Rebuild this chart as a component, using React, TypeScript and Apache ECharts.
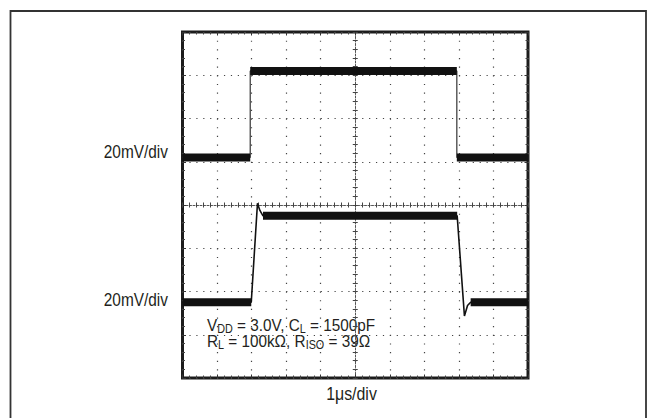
import React, { useEffect, useRef } from 'react';
import * as echarts from 'echarts';

// Oscilloscope capture: time in microseconds (1 µs/div), voltage in mV (20 mV/div)
const topTraceTime = [-5, -3.04, -3.04, 2.94, 2.94, 5];
const topTraceMv = [22, 22, 62, 62, 22, 22];

const bottomTraceTime = [-5, -3.01, -2.83, -2.76, -2.67, 2.95, 3.16, 3.25, 3.34, 5];
const bottomTraceMv = [-45, -45, 0.8, -2.5, -5, -5, -51.3, -46.5, -45, -45];

const channelLabels = ['20mV/div', '20mV/div'];
const timeLabel = '1\u03bcs/div';
const conditionLine1 = '{n|V}{s|DD}{n| = 3.0V, C}{s|L}{n| = 1500pF}';
const conditionLine2 = '{n|R}{s|L}{n| = 100k\u03a9, R}{s|ISO}{n| = 39\u03a9}';

const FONT = '"Liberation Sans", Arial, sans-serif';
const INK = '#231f20';

function zip(t: number[], v: number[]) {
  return t.map((x, i) => [x, v[i]]);
}

function flatSegments(t: number[], v: number[]) {
  const out: (number | null)[][] = [];
  for (let i = 0; i < t.length - 1; i++) {
    if (v[i] === v[i + 1] && t[i] !== t[i + 1]) {
      out.push([t[i], v[i]], [t[i + 1], v[i + 1]], [t[i + 1], null]);
    }
  }
  return out;
}

const frameXAxis = (position: 'top' | 'bottom', split: boolean) => ({
  type: 'value',
  min: -5,
  max: 5,
  interval: 1,
  position,
  axisLine: { show: false, onZero: false },
  axisTick: { show: true, inside: true, length: 3.5, lineStyle: { color: '#333', width: 1 } },
  minorTick: { show: true, splitNumber: 5, length: 2.5, lineStyle: { color: '#444', width: 1 } },
  axisLabel: { show: false },
  splitLine: { show: split, lineStyle: { color: '#444', width: 1.2, type: [1.2, 7.45] } },
  minorSplitLine: { show: false },
});

const frameYAxis = (position: 'left' | 'right', split: boolean) => ({
  type: 'value',
  min: -80,
  max: 80,
  interval: 20,
  position,
  axisLine: { show: false, onZero: false },
  axisTick: { show: true, inside: true, length: 3.5, lineStyle: { color: '#333', width: 1 } },
  minorTick: { show: true, splitNumber: 5, length: 2.5, lineStyle: { color: '#444', width: 1 } },
  axisLabel: { show: false },
  splitLine: { show: split, lineStyle: { color: '#444', width: 1.2, type: [1.2, 5.71] } },
  minorSplitLine: { show: false },
});

const centerXAxis = (inside: boolean, line: boolean) => ({
  type: 'value',
  min: -5,
  max: 5,
  interval: 1,
  position: 'bottom',
  axisLine: { show: line, onZero: true, onZeroAxisIndex: 0, lineStyle: { color: '#555', width: 1, type: [2, 1.5] } },
  axisTick: { show: true, inside, length: 2.5, lineStyle: { color: '#444', width: 1 } },
  minorTick: { show: true, splitNumber: 5, length: 2.5, lineStyle: { color: '#444', width: 1 } },
  axisLabel: { show: false },
  splitLine: { show: false },
});

const centerYAxis = (inside: boolean, line: boolean) => ({
  type: 'value',
  min: -80,
  max: 80,
  interval: 20,
  position: 'left',
  axisLine: { show: line, onZero: true, onZeroAxisIndex: 0, lineStyle: { color: '#555', width: 1, type: [2, 1.5] } },
  axisTick: { show: true, inside, length: 2.5, lineStyle: { color: '#444', width: 1 } },
  minorTick: { show: true, splitNumber: 5, length: 2.5, lineStyle: { color: '#444', width: 1 } },
  axisLabel: { show: false },
  splitLine: { show: false },
});

export default function App() {
  const ref = useRef<HTMLDivElement>(null);

  useEffect(() => {
    if (!ref.current) return;
    const chart = echarts.init(ref.current, undefined, { renderer: 'svg' });
    const richStyles = {
      n: { fontSize: 17, fontFamily: FONT, fill: INK, color: INK, lineHeight: 19 },
      s: { fontSize: 12, fontFamily: FONT, fill: INK, color: INK, lineHeight: 11, verticalAlign: 'bottom' },
    };
    chart.setOption({
      animation: false,
      backgroundColor: '#ffffff',
      grid: {
        left: 182.5,
        top: 32,
        width: 345.5,
        height: 346,
        show: true,
        backgroundColor: '#ffffff',
        borderColor: '#1c1c1c',
        borderWidth: 3,
      },
      xAxis: [
        frameXAxis('bottom', true),
        frameXAxis('top', false),
        centerXAxis(true, true),
        centerXAxis(false, false),
      ],
      yAxis: [
        frameYAxis('left', true),
        frameYAxis('right', false),
        centerYAxis(true, true),
        centerYAxis(false, false),
      ],
      series: [
        {
          type: 'line',
          xAxisIndex: 0,
          yAxisIndex: 0,
          data: zip(topTraceTime, topTraceMv),
          showSymbol: false,
          symbol: 'none',
          lineStyle: { color: '#333', width: 1.2 },
          silent: true,
        },
        {
          type: 'line',
          xAxisIndex: 0,
          yAxisIndex: 0,
          data: flatSegments(topTraceTime, topTraceMv),
          showSymbol: false,
          symbol: 'none',
          connectNulls: false,
          lineStyle: { color: '#111', width: 8 },
          silent: true,
        },
        {
          type: 'line',
          xAxisIndex: 0,
          yAxisIndex: 0,
          data: zip(bottomTraceTime, bottomTraceMv),
          showSymbol: false,
          symbol: 'none',
          lineStyle: { color: '#111', width: 1.6 },
          silent: true,
        },
        {
          type: 'line',
          xAxisIndex: 0,
          yAxisIndex: 0,
          data: flatSegments(bottomTraceTime, bottomTraceMv),
          showSymbol: false,
          symbol: 'none',
          connectNulls: false,
          lineStyle: { color: '#111', width: 8 },
          silent: true,
        },
      ],
      graphic: [
        {
          type: 'rect',
          z: -10,
          shape: { x: 10.5, y: 11, width: 635.5, height: 440 },
          style: { fill: 'none', stroke: '#333', lineWidth: 1.8 },
        },
        {
          type: 'text',
          x: 168,
          y: 151.5,
          scaleX: 0.82,
          style: {
            text: channelLabels[0], fontSize: 18.8, fontFamily: FONT, fill: INK,
            align: 'right', textAlign: 'right', verticalAlign: 'middle', textVerticalAlign: 'middle',
          },
        },
        {
          type: 'text',
          x: 168,
          y: 299.3,
          scaleX: 0.82,
          style: {
            text: channelLabels[1], fontSize: 18.8, fontFamily: FONT, fill: INK,
            align: 'right', textAlign: 'right', verticalAlign: 'middle', textVerticalAlign: 'middle',
          },
        },
        {
          type: 'text',
          x: 351.5,
          y: 394,
          scaleX: 0.86,
          style: {
            text: timeLabel, fontSize: 18.5, fontFamily: FONT, fill: INK,
            align: 'center', textAlign: 'center', verticalAlign: 'middle', textVerticalAlign: 'middle',
          },
        },
        {
          type: 'text',
          x: 207,
          y: 315.5,
          scaleX: 0.9,
          style: {
            text: conditionLine1, fontSize: 17, fontFamily: FONT, fill: INK,
            align: 'left', textAlign: 'left', verticalAlign: 'top', textVerticalAlign: 'top',
            rich: richStyles,
          },
        },
        {
          type: 'text',
          x: 207,
          y: 331.5,
          scaleX: 0.9,
          style: {
            text: conditionLine2, fontSize: 17, fontFamily: FONT, fill: INK,
            align: 'left', textAlign: 'left', verticalAlign: 'top', textVerticalAlign: 'top',
            rich: richStyles,
          },
        },
      ],
    });
    return () => chart.dispose();
  }, []);

  return (
    <div
      ref={ref}
      style={{ position: 'absolute', left: 0, top: 0, width: 650, height: 418, background: '#fff' }}
    />
  );
}
